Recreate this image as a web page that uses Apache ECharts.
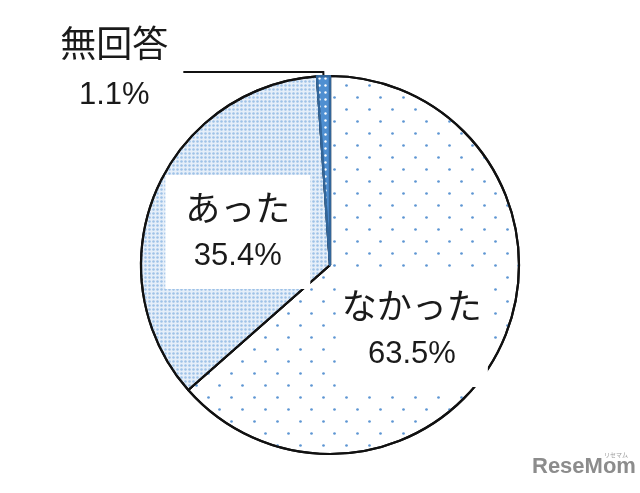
<!DOCTYPE html>
<html><head><meta charset="utf-8">
<script src="https://cdn.jsdelivr.net/npm/echarts@6/dist/echarts.min.js"></script>
<style>html,body{margin:0;padding:0;background:#fff}#c{width:640px;height:493px}</style>
</head><body><div id="c"></div>
<script>
const categories = ['なかった', 'あった', '無回答'];
const values = [63.5, 35.4, 1.1];

const JP = '"Noto Sans CJK JP", sans-serif';
const NUM = '"Liberation Sans", Arial, sans-serif';
const TXT = '#1a1a1a';

const itemStyles = [
  { color: '#ffffff', borderColor: '#111', borderWidth: 2.2,
    decal: { symbol: 'circle', color: '#5e96d3', symbolSize: 0.9,
             dashArrayX: [[3, 20], [0, 11, 3, 9]], dashArrayY: [3, 9] } },
  { color: '#e6eff9', borderColor: '#111', borderWidth: 2.2,
    decal: { symbol: 'circle', color: '#9fc2e7', symbolSize: 0.85,
             dashArrayX: [[3, 1]], dashArrayY: [3, 1] } },
  { color: '#4f8fd1', borderColor: '#33669a', borderWidth: 2.2,
    decal: { symbol: 'circle', color: '#ffffff', symbolSize: 0.8,
             dashArrayX: [[3, 3]], dashArrayY: [3, 4] } }
];

const richIn = {
  a: { fontFamily: JP, fontSize: 35, lineHeight: 49, color: TXT, align: 'center' },
  b: { fontFamily: NUM, fontSize: 31, lineHeight: 49, color: TXT, align: 'center' }
};
const richOut = {
  a: { fontFamily: JP, fontSize: 36, lineHeight: 52, color: TXT, align: 'center' },
  b: { fontFamily: NUM, fontSize: 31, lineHeight: 52, color: TXT, align: 'center' }
};

const labels = [
  { position: 'inside', backgroundColor: '#fff', padding: [8, 6], rich: richIn },
  { position: 'inside', backgroundColor: '#fff', padding: [8, 20], rich: richIn },
  { position: 'outside', distanceToLabelLine: 15, padding: [0, 0, 6, 0], rich: richOut }
];
const labelLines = [
  { show: false }, { show: false },
  { show: true, length: 4, length2: 140, lineStyle: { color: '#111', width: 2 } }
];

const data = categories.map((name, i) => ({
  name, value: values[i], itemStyle: itemStyles[i], label: labels[i], labelLine: labelLines[i]
}));

const chart = echarts.init(document.getElementById('c'), null, { renderer: 'canvas' });
chart.setOption({
  backgroundColor: '#fff',
  animation: false,
  graphic: [
    { type: 'text', left: 532, top: 456, style: { text: 'ReseMom', font: 'bold 22px "Liberation Sans", Arial, sans-serif', fill: '#8c8c8c' } },
    { type: 'text', left: 604, top: 452, style: { text: 'リセマム', font: '6px "Noto Sans CJK JP", sans-serif', fill: '#9a9a9a' } }
  ],
  series: [{
    type: 'pie',
    center: [330, 265],
    radius: [0, 189],
    startAngle: 90,
    clockwise: true,
    avoidLabelOverlap: false,
    silent: true,
    label: {
      show: true, color: TXT, textBorderWidth: 0,
      formatter: p => '{a|' + p.name + '}\n{b|' + p.value.toFixed(1) + '%}'
    },
    labelLayout: p => {
      if (p.dataIndex === 0) return { dx: -7, dy: 25 };
      if (p.dataIndex === 1) return { dx: -2, dy: 4 };
      return {};
    },
    data
  }]
});
</script></body></html>
